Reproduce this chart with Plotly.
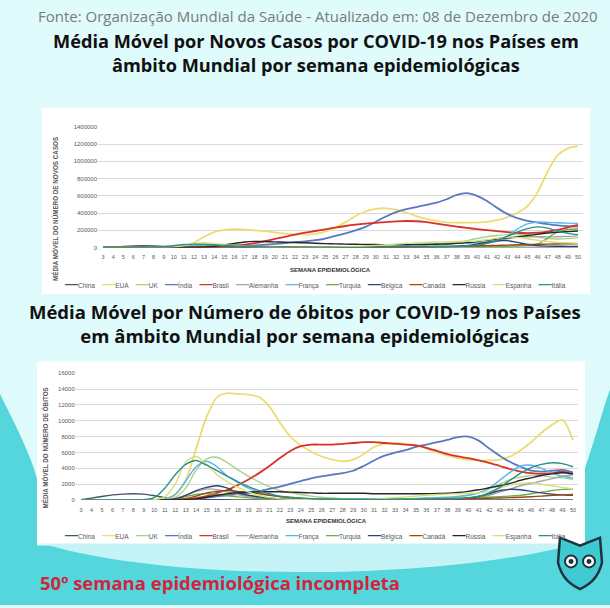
import plotly.graph_objects as go

W, H = 610, 608

weeks = list(range(3, 51))
countries = ["China", "EUA", "UK", "Índia", "Brasil", "Alemanha", "França",
             "Turquia", "Bélgica", "Canadá", "Rússia", "Espanha", "Itália"]
colors = ["#44546a", "#ecdc72", "#a9d18e", "#5a78c0", "#d6322a", "#a5a5a5", "#5bb5e6",
          "#70ad47", "#264478", "#9e480e", "#262626", "#d4e07a", "#2e8f86"]

# ---- new cases, weekly moving average (thousands) ----
cases_china = [0.5, 3, 12, 19, 21, 19, 14, 7, 3, 1.5, 1, 0.8, 0.6, 0.5, 0.4, 0.3,
               0.2, 0.2, 0.2, 0.3, 0.3, 0.3, 0.2, 0.2, 0.2, 0.4, 0.5, 0.6, 0.5, 0.3, 0.2, 0.2,
               0.2, 0.1, 0.1, 0.1, 0.1, 0.1, 0.2, 0.2, 0.2, 0.2, 0.2, 0.2, 0.1, 0.1, 0.1, 0.1]
cases_eua = [0, 0, 0, 0, 0, 0, 0.1, 1.5, 12, 55, 125, 180, 205, 212, 208, 200,
             190, 175, 162, 152, 150, 158, 185, 235, 295, 365, 418, 448, 455, 440, 405, 365,
             332, 308, 293, 288, 288, 290, 298, 318, 350, 400, 480, 640, 880, 1070, 1150, 1175]
cases_uk = [0, 0, 0, 0, 0, 0, 0.1, 0.5, 2, 6, 18, 30, 35, 32, 26, 20,
            16, 12, 9, 7, 6, 5, 4.5, 4.5, 4.5, 5, 5.5, 6, 7, 8, 10, 13,
            18, 25, 38, 55, 80, 105, 125, 140, 150, 155, 150, 125, 105, 100, 105, 112]
cases_india = [0, 0, 0, 0, 0, 0, 0, 0.1, 0.3, 0.8, 2, 4, 7, 11, 16, 24,
               33, 42, 52, 62, 72, 85, 105, 135, 165, 200, 240, 300, 360, 410, 445, 470,
               495, 520, 560, 610, 630, 600, 540, 460, 390, 340, 310, 290, 272, 258, 248, 242]
cases_brasil = [0, 0, 0, 0, 0, 0, 0, 0.1, 0.5, 2, 5, 9, 14, 22, 35, 52,
                75, 100, 125, 150, 172, 192, 212, 232, 250, 265, 277, 287, 296, 304, 308, 305,
                294, 278, 260, 243, 228, 214, 202, 190, 180, 172, 168, 172, 185, 205, 235, 262]
cases_alemanha = [0, 0, 0, 0, 0, 0.2, 0.8, 4, 14, 30, 40, 36, 27, 16, 10, 7,
                  5, 4, 3.5, 3, 3, 3.5, 3.5, 3.5, 3.5, 4, 4.5, 5, 6, 7, 8, 9,
                  9, 10, 12, 15, 20, 30, 50, 75, 100, 118, 125, 126, 124, 126, 130, 136]
cases_franca = [0, 0, 0, 0, 0, 0.3, 1.5, 5, 12, 22, 30, 33, 28, 18, 10, 6,
                4, 3, 3, 3, 3, 4, 5, 6, 7, 8, 9, 11, 14, 18, 24, 32,
                38, 44, 48, 50, 52, 55, 60, 72, 130, 215, 275, 295, 292, 287, 283, 280]
cases_turquia = [0, 0, 0, 0, 0, 0, 0, 0, 0.5, 4, 14, 26, 32, 28, 18, 13,
                 10, 7, 6, 6, 7, 8, 8, 7, 7, 6.5, 6.5, 7, 8, 9, 10, 11,
                 12, 12, 12, 11, 11, 12, 13, 14, 16, 18, 25, 40, 110, 185, 210, 215]
cases_belgica = [0, 0, 0, 0, 0, 0, 0.1, 0.5, 2, 5, 8, 9, 8, 6, 4, 3,
                 2, 1.5, 1.5, 1.5, 1.5, 1.5, 2, 3, 4, 5, 5, 4, 3.5, 3.5, 4, 5,
                 6, 8, 10, 14, 22, 40, 62, 78, 80, 60, 35, 22, 17, 15, 14, 14]
cases_canada = [0, 0, 0, 0, 0, 0, 0.1, 0.5, 2, 5, 8, 9, 9, 10, 9, 7,
                6, 5, 4, 3, 2.5, 2, 2, 2, 2, 2.5, 3, 3, 3.5, 4, 5, 7,
                9, 11, 13, 15, 17, 19, 22, 25, 28, 32, 36, 38, 40, 42, 44, 45]
cases_russia = [0, 0, 0, 0, 0, 0, 0, 0.1, 0.3, 1.5, 5, 14, 30, 48, 65, 72,
                70, 66, 62, 58, 55, 50, 46, 43, 40, 38, 36, 35, 34, 34, 34, 35,
                36, 38, 42, 48, 57, 70, 85, 100, 112, 125, 140, 155, 168, 178, 185, 192]
cases_espanha = [0, 0, 0, 0, 0, 0.5, 2, 8, 22, 45, 55, 46, 32, 22, 14, 8,
                 5, 3, 2.5, 2.5, 2.5, 3, 4, 6, 9, 13, 18, 24, 32, 40, 48, 55,
                 60, 64, 68, 70, 72, 76, 90, 108, 120, 118, 102, 85, 70, 60, 54, 50]
cases_italia = [0, 0, 0, 0, 0.5, 3, 10, 22, 35, 40, 37, 31, 24, 18, 13, 9,
                6, 4, 3, 2.5, 2, 1.5, 1.5, 1.5, 1.5, 1.8, 2, 2.5, 3, 4, 5, 7,
                9, 10, 11, 13, 18, 28, 50, 85, 130, 180, 220, 240, 225, 190, 165, 150]

# ---- deaths, weekly moving average ----
deaths_china = [50, 250, 450, 650, 750, 800, 750, 550, 300, 150, 80, 50, 40, 40, 30, 20,
                10, 5, 0, 0, 0, 0, 0, 0, 0, 0, 0, 0, 0, 0, 0, 0,
                0, 0, 0, 0, 0, 0, 0, 0, 0, 0, 0, 0, 0, 0, 0, 0]
deaths_eua = [0, 0, 0, 0, 0, 0, 2, 20, 120, 700, 2500, 6500, 10500, 13000, 13500, 13400,
              13300, 13000, 11800, 9800, 8000, 6900, 6100, 5500, 5100, 4900, 5100, 5800, 6700, 7100, 7200, 7100,
              6900, 6500, 6000, 5600, 5300, 5100, 5000, 5000, 5100, 5500, 6300, 7300, 8500, 9500, 10100, 7600]
deaths_uk = [0, 0, 0, 0, 0, 0, 0, 5, 40, 350, 1500, 3800, 5200, 5400, 4700, 3800,
             3000, 2300, 1700, 1200, 900, 700, 500, 350, 250, 180, 130, 100, 80, 70, 70, 80,
             100, 130, 180, 250, 400, 600, 900, 1400, 2000, 2600, 2900, 3100, 3100, 2900, 2800, 2600]
deaths_india = [0, 0, 0, 0, 0, 0, 0, 0, 5, 20, 60, 150, 300, 450, 600, 750,
                900, 1100, 1400, 1700, 2050, 2400, 2750, 3000, 3200, 3400, 3700, 4300, 5000, 5600, 6000, 6300,
                6700, 7000, 7300, 7600, 7950, 8000, 7500, 6500, 5600, 4800, 4200, 3700, 3600, 3700, 3800, 3500]
deaths_brasil = [0, 0, 0, 0, 0, 0, 0, 0, 0, 20, 100, 250, 500, 900, 1300, 1900,
                 2600, 3400, 4300, 5300, 6200, 6800, 7000, 7000, 7000, 7100, 7200, 7300, 7300, 7200, 7100, 7000,
                 6900, 6600, 6200, 5800, 5500, 5300, 5000, 4700, 4300, 3900, 3600, 3400, 3300, 3400, 3600, 3300]
deaths_alemanha = [0, 0, 0, 0, 0, 0, 0, 10, 50, 200, 600, 1100, 1400, 1300, 1000, 700,
                   450, 300, 200, 120, 80, 60, 50, 40, 30, 30, 30, 30, 30, 30, 40, 50,
                   60, 70, 80, 100, 120, 180, 300, 600, 1000, 1400, 1800, 2100, 2400, 2700, 3000, 3200]
deaths_franca = [0, 0, 0, 0, 0, 0, 0, 20, 150, 700, 2400, 4200, 4900, 4200, 3000, 2200,
                 1500, 1000, 650, 400, 300, 200, 150, 120, 100, 90, 80, 80, 90, 100, 120, 150,
                 200, 250, 300, 350, 450, 600, 900, 1500, 2500, 3500, 4300, 4400, 4000, 3400, 3000, 2800]
deaths_turquia = [0, 0, 0, 0, 0, 0, 0, 0, 10, 150, 450, 700, 800, 750, 550, 400,
                  280, 200, 150, 120, 100, 110, 120, 130, 140, 140, 140, 140, 150, 150, 160, 170,
                  180, 190, 200, 210, 220, 250, 300, 350, 420, 500, 600, 800, 1000, 1200, 1350, 1400]
deaths_belgica = [0, 0, 0, 0, 0, 0, 0, 0, 10, 150, 600, 1200, 1600, 1800, 1500, 900,
                  600, 400, 250, 150, 100, 60, 40, 30, 25, 25, 25, 25, 25, 30, 35, 40,
                  45, 50, 60, 80, 120, 250, 450, 800, 1200, 1350, 1300, 1100, 900, 750, 650, 600]
deaths_canada = [0, 0, 0, 0, 0, 0, 0, 0, 5, 40, 200, 500, 900, 1100, 1200, 1100,
                 950, 800, 600, 450, 300, 200, 120, 80, 60, 50, 40, 40, 40, 40, 40, 40,
                 40, 50, 60, 80, 120, 150, 180, 220, 260, 300, 350, 420, 500, 600, 650, 700]
deaths_russia = [0, 0, 0, 0, 0, 0, 0, 0, 0, 10, 50, 150, 350, 600, 800, 950,
                 1000, 1050, 1050, 1050, 1000, 950, 900, 850, 850, 850, 850, 850, 800, 800, 800, 800,
                 800, 800, 820, 850, 950, 1100, 1300, 1550, 1800, 2100, 2500, 2800, 3100, 3300, 3450, 3300]
deaths_espanha = [0, 0, 0, 0, 0, 0, 0, 50, 400, 2000, 4800, 5500, 4500, 3200, 2300, 1600,
                  1000, 600, 300, 150, 80, 50, 30, 20, 20, 20, 30, 50, 100, 200, 300, 400,
                  500, 600, 700, 750, 800, 850, 900, 1100, 1500, 1900, 2100, 2200, 2000, 1800, 1600, 1400]
deaths_italia = [0, 0, 0, 0, 0, 5, 50, 300, 1500, 3200, 4500, 5000, 4400, 3700, 3000, 2300,
                 1700, 1200, 800, 500, 350, 250, 150, 100, 80, 70, 60, 60, 60, 70, 80, 100,
                 110, 120, 130, 150, 200, 300, 500, 900, 1600, 2500, 3400, 4100, 4500, 4700, 4600, 4200]

cases_k = [cases_china, cases_eua, cases_uk, cases_india, cases_brasil, cases_alemanha,
           cases_franca, cases_turquia, cases_belgica, cases_canada, cases_russia,
           cases_espanha, cases_italia]
deaths = [deaths_china, deaths_eua, deaths_uk, deaths_india, deaths_brasil, deaths_alemanha,
          deaths_franca, deaths_turquia, deaths_belgica, deaths_canada, deaths_russia,
          deaths_espanha, deaths_italia]

fig = go.Figure()
major = {"EUA", "Índia", "Brasil"}
for name, col, vals in zip(countries, colors, cases_k):
    fig.add_trace(go.Scatter(x=weeks, y=[v * 1000 for v in vals], name=name, mode="lines",
                             line=dict(color=col, width=1.8 if name in major else 1.4,
                                       shape="spline", smoothing=0.8),
                             xaxis="x", yaxis="y", showlegend=False))
for name, col, vals in zip(countries, colors, deaths):
    fig.add_trace(go.Scatter(x=weeks, y=vals, name=name, mode="lines",
                             line=dict(color=col, width=1.8 if name in major else 1.4,
                                       shape="spline", smoothing=0.8),
                             xaxis="x2", yaxis="y2", showlegend=False))


def px(x):
    return x / W


def py(y):
    return 1 - y / H


def path(pts):
    out = []
    for cmd, coords in pts:
        s = " ".join(f"{px(a):.5f},{py(b):.5f}" for a, b in coords)
        out.append(f"{cmd} {s}")
    return " ".join(out) + " Z"


shapes = []
# teal background wave
shapes.append(dict(type="path", xref="paper", yref="paper", layer="below", line=dict(width=0),
                   fillcolor="#55d6dc",
                   path=path([("M", [(0, 395)]), ("C", [(15, 425), (30, 455), (37, 480)]),
                              ("L", [(37, 548)]), ("L", [(585, 548)]), ("L", [(585, 470)]),
                              ("C", [(595, 440), (603, 410), (610, 390)]),
                              ("L", [(610, 608)]), ("L", [(0, 608)])])))
# light band under chart 2
shapes.append(dict(type="path", xref="paper", yref="paper", layer="below", line=dict(width=0),
                   fillcolor="#c6f4f6",
                   path=path([("M", [(37, 544)]), ("C", [(160, 585), (440, 585), (585, 544)])])))
# white panels
shapes.append(dict(type="rect", xref="paper", yref="paper", layer="below", line=dict(width=0),
                   fillcolor="white", x0=px(42), x1=px(590), y0=py(294), y1=py(106)))
shapes.append(dict(type="rect", xref="paper", yref="paper", layer="below", line=dict(width=0),
                   fillcolor="white", x0=px(37), x1=px(585), y0=py(546), y1=py(362)))
# owl logo (decoration)
shapes.append(dict(type="path", xref="paper", yref="paper", layer="above",
                   line=dict(color="#1d3440", width=2.5), fillcolor="#3fc9d0",
                   path=path([("M", [(560, 540)]), ("L", [(580, 548)]), ("L", [(600, 540)]),
                              ("L", [(602, 565)]), ("C", [(598, 582), (588, 588), (580, 592)]),
                              ("C", [(572, 588), (562, 582), (558, 565)])])))
for cx in (571, 589):
    shapes.append(dict(type="circle", xref="paper", yref="paper", layer="above",
                       line=dict(color="#1d3440", width=2), fillcolor="white",
                       x0=px(cx - 6), x1=px(cx + 6), y0=py(570), y1=py(558)))
    shapes.append(dict(type="circle", xref="paper", yref="paper", layer="above",
                       line=dict(width=0), fillcolor="#1d3440",
                       x0=px(cx - 2.5), x1=px(cx + 2.5), y0=py(566.5), y1=py(561.5)))


def legend_text():
    parts = []
    for c, col in zip(countries, colors):
        parts.append(f"<span style='color:{col};font-size:13px'><b>—</b></span>"
                     f"<span style='color:#595959'>{c}</span>")
    return "&nbsp;&nbsp;&nbsp;&nbsp;".join(parts)


def note(text, x, y, font, xanchor="center", angle=0):
    return dict(text=text, x=px(x), y=py(y), xref="paper", yref="paper", showarrow=False,
                xanchor=xanchor, yanchor="middle", textangle=angle, font=font)


small = dict(family="Liberation Sans", size=6.5, color="#595959")
ann = [
    note("Fonte: Organização Mundial da Saúde - Atualizado em: 08 de Dezembro de 2020", 318, 13,
         dict(family="Open Sans", size=15, color="#7a7a7a")),
    note("<b>Média Móvel por Novos Casos por COVID-19 nos Países em<br>âmbito Mundial por semana epidemiológicas</b>",
         316, 50, dict(family="Open Sans", size=18.2, color="#111111")),
    note("<b>Média Móvel por Número de óbitos por COVID-19 nos Países<br>em âmbito Mundial por semana epidemiológicas</b>",
         305, 324, dict(family="Open Sans", size=18.5, color="#111111")),
    note("<b>50º semana epidemiológica incompleta</b>", 38, 585,
         dict(family="Open Sans", size=18.5, color="#d0253a"), xanchor="left"),
    note("<b>MÉDIA MÓVEL DO NÚMERO DE NOVOS CASOS</b>", 55, 208,
         dict(family="Liberation Sans", size=6.3, color="#595959"), angle=-90),
    note("<b>MÉDIA MÓVEL DO NÚMERO DE ÓBITOS</b>", 45, 450,
         dict(family="Liberation Sans", size=6.3, color="#595959"), angle=-90),
    note("<b>SEMANA EPIDEMIOLÓGICA</b>", 330, 269,
         dict(family="Liberation Sans", size=6, color="#333333")),
    note("<b>SEMANA EPIDEMIOLÓGICA</b>", 326, 523,
         dict(family="Liberation Sans", size=6, color="#333333")),
    note(legend_text(), 315, 283, small),
    note(legend_text(), 315, 537, small),
]

xcommon = dict(range=[2.5, 50.5], tickmode="linear", tick0=3, dtick=1, showgrid=False,
               zeroline=False, showline=False, ticks="outside", ticklen=4,
               tickcolor="rgba(0,0,0,0)", tickfont=dict(family="Liberation Sans", size=5.5, color="#595959"))
ycommon = dict(showgrid=True, gridcolor="#d9d9d9", gridwidth=0.8, zeroline=False, showline=False,
               ticks="", tickformat="d", tickfont=dict(family="Liberation Sans", size=6, color="#595959"))

fig.update_layout(
    width=W, height=H, margin=dict(l=0, r=0, t=0, b=0),
    paper_bgcolor="#dffbfb", plot_bgcolor="rgba(0,0,0,0)",
    showlegend=False,
    xaxis=dict(domain=[px(98), px(583)], anchor="y", **xcommon),
    yaxis=dict(domain=[py(247), py(125)], anchor="x", range=[0, 1400000], dtick=200000, **ycommon),
    xaxis2=dict(domain=[px(75.8), px(578.2)], anchor="y2", **xcommon),
    yaxis2=dict(domain=[py(502), py(374)], anchor="x2", range=[0, 16000], dtick=2000, **ycommon),
    shapes=shapes, annotations=ann,
)

fig.write_html("out.html", config={"displayModeBar": False},
               post_script="document.body.style.margin='0';document.body.style.overflow='hidden';")
